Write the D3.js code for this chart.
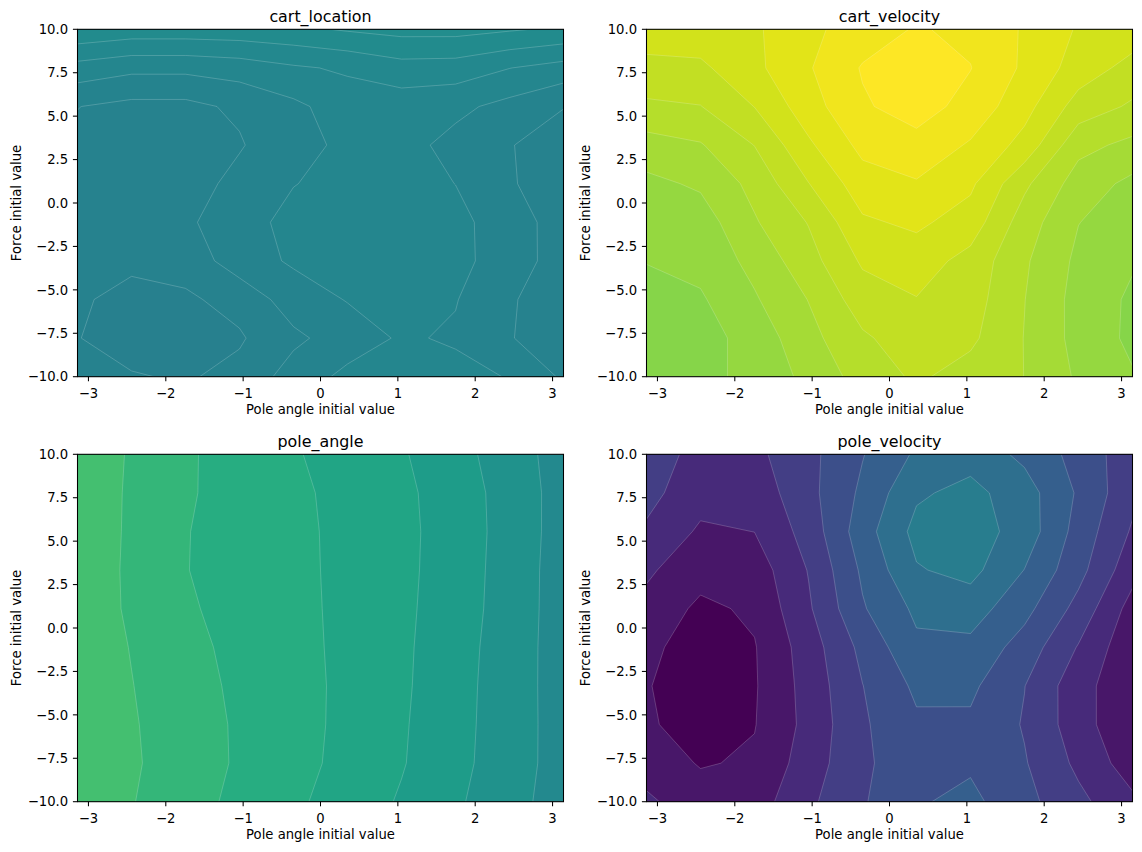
<!DOCTYPE html>
<html>
<head>
<meta charset="utf-8">
<script src="https://cdn.jsdelivr.net/npm/d3@7"></script>
<style>
  body { margin: 0; background: #ffffff; }
  svg { display: block; font-family: "DejaVu Sans", sans-serif; }
</style>
</head>
<body>
<svg id="chart" width="1142" height="852"></svg>
<script>
// ---------------- data ----------------
// grid coordinates (pole angle from -pi to pi, force from +10 down to -10)
const poleAngles = [-3.1416, -2.4435, -1.7453, -1.0472, -0.3491, 0.3491, 1.0472, 1.7453, 2.4435, 3.1416];
const forces = [10, 7.778, 5.556, 3.333, 1.111, -1.111, -3.333, -5.556, -7.778, -10];
const xTicks = [-3, -2, -1, 0, 1, 2, 3];
const yTicks = [-10, -7.5, -5, -2.5, 0, 2.5, 5, 7.5, 10];
const panelTitles = ["cart_location", "cart_velocity", "pole_angle", "pole_velocity"];
const xLabel = "Pole angle initial value";
const yLabel = "Force initial value";

// values on the grid (rows: force from 10 to -10; columns: pole angle from -pi to pi),
// expressed in contour-level units of each panel
const cartLocation = [
  [5.84, 5.58, 5.58, 5.63, 5.79, 6.10, 6.33, 6.34, 6.10, 5.84],
  [3.62, 3.25, 3.25, 3.46, 3.87, 4.14, 4.61, 4.55, 4.02, 3.62],
  [2.02, 1.72, 1.72, 2.20, 2.78, 3.50, 3.44, 3.24, 2.69, 2.04],
  [1.80, 1.60, 1.55, 1.89, 2.92, 3.05, 3.35, 2.69, 2.06, 1.42],
  [1.65, 1.45, 1.40, 2.40, 2.97, 3.30, 3.40, 2.99, 2.13, 1.26],
  [1.55, 1.35, 1.83, 2.60, 3.30, 3.35, 3.40, 3.30, 2.44, 1.58],
  [1.45, 1.18, 1.37, 2.54, 3.13, 3.30, 3.35, 3.32, 2.45, 1.58],
  [1.12, 0.73, 0.85, 1.32, 2.50, 3.05, 3.30, 3.05, 2.14, 1.24],
  [1.03, 0.60, 0.70, 0.89, 1.79, 2.49, 3.12, 2.88, 2.08, 1.20],
  [1.20, 1.07, 0.90, 1.28, 2.44, 3.25, 3.35, 3.30, 2.95, 1.85]
];
const cartVelocity = [
  [5.50, 5.60, 5.85, 6.77, 7.47, 8.09, 7.76, 6.90, 5.90, 5.55],
  [4.73, 4.80, 5.76, 6.91, 8.08, 8.40, 8.03, 6.83, 5.55, 4.65],
  [3.81, 3.97, 5.02, 6.57, 7.88, 8.43, 7.65, 6.36, 4.57, 3.85],
  [2.58, 2.92, 4.02, 5.83, 7.28, 7.67, 6.89, 5.65, 3.30, 2.75],
  [1.75, 2.15, 3.30, 4.97, 6.56, 6.91, 6.19, 4.20, 2.53, 1.75],
  [1.45, 1.50, 2.90, 4.05, 5.85, 6.19, 5.55, 3.50, 2.02, 1.50],
  [1.05, 1.30, 2.30, 3.62, 5.14, 5.49, 4.65, 3.14, 1.78, 1.10],
  [0.49, 0.88, 1.89, 3.03, 4.52, 4.96, 4.45, 3.02, 1.64, 0.83],
  [0.30, 0.60, 1.40, 2.68, 3.85, 4.55, 4.20, 2.97, 1.66, 0.79],
  [0.20, 0.50, 1.50, 2.19, 3.46, 4.15, 3.60, 2.99, 1.85, 1.08]
];
const poleAngle = [
  [6.67, 5.90, 5.13, 4.59, 4.09, 3.59, 3.10, 2.36, 1.48, 0.56],
  [6.63, 5.87, 5.11, 4.63, 4.19, 3.72, 3.22, 2.51, 1.60, 0.59],
  [6.65, 5.85, 5.04, 4.62, 4.22, 3.76, 3.25, 2.55, 1.61, 0.58],
  [6.62, 5.83, 5.03, 4.62, 4.23, 3.77, 3.24, 2.52, 1.58, 0.54],
  [6.58, 5.86, 5.13, 4.66, 4.25, 3.78, 3.21, 2.48, 1.56, 0.54],
  [6.64, 5.96, 5.28, 4.74, 4.29, 3.78, 3.18, 2.41, 1.50, 0.55],
  [6.67, 6.03, 5.39, 4.81, 4.33, 3.79, 3.16, 2.36, 1.48, 0.56],
  [6.71, 6.09, 5.47, 4.87, 4.34, 3.77, 3.11, 2.33, 1.47, 0.58],
  [6.76, 6.13, 5.49, 4.88, 4.32, 3.72, 3.07, 2.29, 1.45, 0.59],
  [6.70, 6.05, 5.39, 4.76, 4.18, 3.55, 2.90, 2.15, 1.35, 0.54]
];
const poleVelocity = [
  [3.63, 2.60, 2.76, 3.72, 4.95, 6.15, 6.60, 5.77, 4.64, 3.39],
  [3.30, 2.39, 2.40, 3.70, 5.20, 6.85, 7.30, 6.44, 4.87, 3.26],
  [2.86, 1.85, 2.01, 3.40, 5.55, 7.30, 7.50, 6.57, 4.62, 2.88],
  [2.15, 1.40, 1.46, 3.05, 5.17, 6.92, 7.30, 5.98, 4.33, 2.35],
  [1.73, 0.78, 1.17, 2.86, 4.90, 6.20, 6.47, 5.31, 3.67, 1.60],
  [1.25, 0.50, 0.94, 2.50, 4.27, 5.80, 5.74, 4.57, 2.93, 1.25],
  [1.08, 0.30, 0.91, 2.38, 3.98, 5.19, 5.20, 4.02, 2.37, 1.25],
  [1.10, 0.68, 0.96, 2.30, 3.86, 4.84, 4.83, 3.92, 2.44, 1.11],
  [1.60, 0.92, 1.13, 2.50, 3.80, 4.70, 4.85, 4.08, 2.78, 1.48],
  [2.16, 1.49, 1.53, 2.80, 3.90, 4.90, 5.25, 4.30, 3.25, 2.20]
];
// number of filled bands per panel and the viridis positions of lowest / highest band
const bandCounts = [7, 9, 7, 8];
const viridisRanges = [[0.43, 0.487], [0.82, 1.0], [0.472, 0.70], [0.0, 0.42]];

// ---------------- drawing ----------------
const svg = d3.select("#chart");
svg.append("rect").attr("width", 1142).attr("height", 852).attr("fill", "#ffffff");

const W = 486, H = 347.4;
const origins = [[77.5, 29.3], [646.5, 29.3], [77.5, 454.3], [646.5, 454.3]];
const grids = [cartLocation, cartVelocity, poleAngle, poleVelocity];
const tickFont = 13.2, titleFont = 15.9;
const fmtX = d3.format("d"), fmtY = d3.format(".1f");

grids.forEach((grid, p) => {
  const [ox, oy] = origins[p];
  const g = svg.append("g").attr("transform", `translate(${ox},${oy})`);

  const x = d3.scaleLinear().domain([poleAngles[0], poleAngles[poleAngles.length - 1]]).range([0, W]);
  const y = d3.scaleLinear().domain([forces[forces.length - 1], forces[0]]).range([H, 0]);

  const nx = poleAngles.length, ny = forces.length;
  // grid-cell coordinates from d3.contours -> data -> pixels
  const gxToData = d3.scaleLinear().domain([0.5, nx - 0.5]).range([poleAngles[0], poleAngles[nx - 1]]);
  const gyToData = d3.scaleLinear().domain([0.5, ny - 0.5]).range([forces[0], forces[ny - 1]]);
  const path = d3.geoPath(d3.geoTransform({
    point(px, py) { this.stream.point(x(gxToData(px)), y(gyToData(py))); }
  }));

  const values = grid.flat();
  const thresholds = d3.range(bandCounts[p]);
  const bands = d3.contours().size([nx, ny]).thresholds(thresholds)(values);
  const tScale = d3.scaleLinear().domain([0.5, bandCounts[p] - 0.5]).range(viridisRanges[p]);
  const colour = v => d3.interpolateViridis(tScale(v + 0.5));

  const clipId = "clip" + p;
  g.append("clipPath").attr("id", clipId)
    .append("rect").attr("x", 0).attr("y", 0).attr("width", W).attr("height", H);

  const plot = g.append("g").attr("clip-path", `url(#${clipId})`);
  plot.selectAll("path").data(bands).join("path")
    .attr("d", path)
    .attr("fill", d => colour(d.value))
    .attr("stroke", d => d.value > thresholds[0] ? "rgba(255,255,255,0.32)" : "none")
    .attr("stroke-width", 0.6)
    .attr("stroke-linejoin", "round");

  // spines
  g.append("rect").attr("width", W).attr("height", H)
    .attr("fill", "none").attr("stroke", "#000").attr("stroke-width", 1.06);

  // x ticks
  const xt = g.append("g");
  xTicks.forEach(t => {
    xt.append("line").attr("x1", x(t)).attr("x2", x(t)).attr("y1", H).attr("y2", H + 4.6)
      .attr("stroke", "#000").attr("stroke-width", 1.06);
    xt.append("text").attr("x", x(t)).attr("y", H + 21.4)
      .attr("text-anchor", "middle").attr("font-size", tickFont).attr("fill", "#000")
      .text(fmtX(t));
  });
  // y ticks
  const yt = g.append("g");
  yTicks.forEach(t => {
    yt.append("line").attr("x1", -4.6).attr("x2", 0).attr("y1", y(t)).attr("y2", y(t))
      .attr("stroke", "#000").attr("stroke-width", 1.06);
    yt.append("text").attr("x", -9.4).attr("y", y(t)).attr("dy", "0.36em")
      .attr("text-anchor", "end").attr("font-size", tickFont).attr("fill", "#000")
      .text(fmtY(t));
  });

  // labels and title
  g.append("text").attr("x", W / 2).attr("y", H + 37.2)
    .attr("text-anchor", "middle").attr("font-size", tickFont).attr("fill", "#000")
    .text(xLabel);
  g.append("text").attr("transform", `translate(-57,${H / 2}) rotate(-90)`)
    .attr("text-anchor", "middle").attr("font-size", tickFont).attr("fill", "#000")
    .text(yLabel);
  g.append("text").attr("x", W / 2).attr("y", -7.8)
    .attr("text-anchor", "middle").attr("font-size", titleFont).attr("fill", "#000")
    .text(panelTitles[p]);
});
</script>
</body>
</html>
